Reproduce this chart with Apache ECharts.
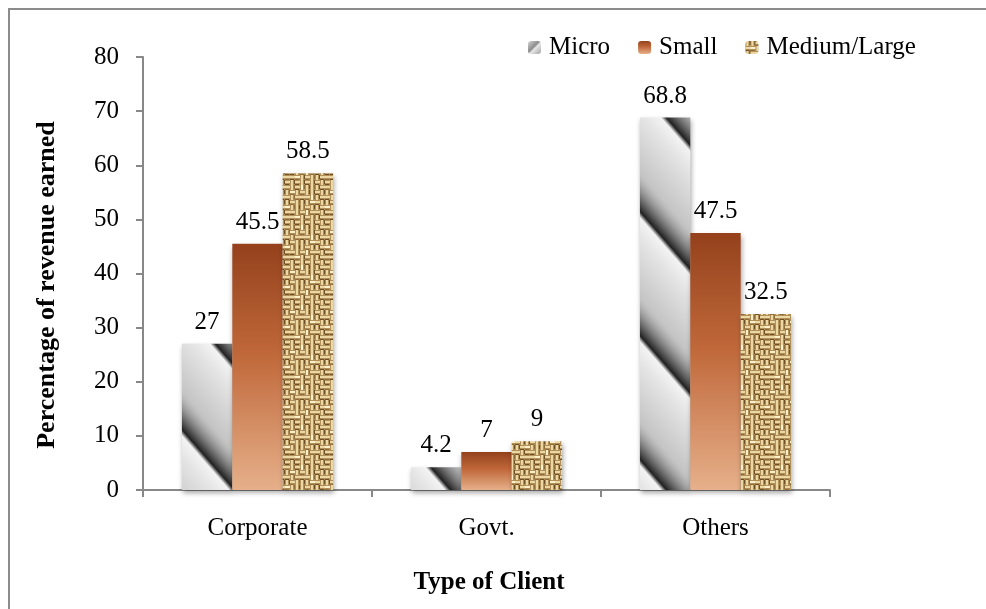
<!DOCTYPE html>
<html><head><meta charset="utf-8">
<script src="https://cdn.jsdelivr.net/npm/echarts@6/dist/echarts.min.js"></script>
<style>html,body{margin:0;padding:0;background:#fff}#c{width:986px;height:609px}</style>
</head><body><div id="c"></div>
<script>
const categories = ['Corporate', 'Govt.', 'Others'];
const seriesNames = ['Micro', 'Small', 'Medium/Large'];
const micro = [27, 4.2, 68.8];
const small = [45.5, 7, 47.5];
const mediumLarge = [58.5, 9, 32.5];
const yMin = 0, yMax = 80, yInterval = 10;

const FONT = '"Liberation Serif", "Times New Roman", serif';

function microTexture() {
  const W = 108, H = 124;
  const c = document.createElement('canvas'); c.width = W; c.height = H;
  const ctx = c.getContext('2d');
  const img = ctx.createImageData(W, H);
  for (let y = 0; y < H; y++) for (let x = 0; x < W; x++) {
    let v = ((y - x * H / W) % H + H) % H / H;
    let g;
    if (v < 0.45) g = 228 - 30 * (v / 0.45);
    else if (v < 0.78) { const t = (v - 0.45) / 0.33; g = 198 - 165 * Math.pow(t, 1.6); }
    else if (v < 0.83) g = 33 + (v - 0.78) / 0.05 * 210;
    else g = 243 - (v - 0.83) / 0.17 * 15;
    const i = (y * W + x) * 4;
    img.data[i] = g; img.data[i + 1] = g; img.data[i + 2] = g; img.data[i + 3] = 255;
  }
  ctx.putImageData(img, 0, 0);
  return c;
}

function burlapTexture() {
  const S = 5, N = 8, W = S * N, H = S * N;
  const c = document.createElement('canvas'); c.width = W; c.height = H;
  const ctx = c.getContext('2d');
  ctx.fillStyle = '#b08f58'; ctx.fillRect(0, 0, W, H);
  for (let cy = 0; cy < N; cy++) for (let cx = 0; cx < N; cx++) {
    const h = (cx * 37 + cy * 91 + cx * cy * 17) % 7;
    const x = cx * S, y = cy * S;
    const horiz = ((cx + cy) % 2 === 0) !== (h < 2);
    ctx.fillStyle = h === 5 ? '#fbf0cc' : '#ecd8a4';
    if (horiz) ctx.fillRect(x, y + 1, S, 2); else ctx.fillRect(x + 1, y, 2, S);
    ctx.fillStyle = h < 3 ? '#6f5026' : '#8e6d3b';
    if (horiz) ctx.fillRect(x, y + 4, S - 1, 1); else ctx.fillRect(x + 4, y, 1, S - 1);
  }
  return c;
}

const microFill = { image: microTexture(), repeat: 'repeat' };
const microIcon = {
  type: 'linear', x: 0, y: 0, x2: 1, y2: 1,
  colorStops: [
    { offset: 0, color: '#d8d8d8' },
    { offset: 0.45, color: '#8a8a8a' },
    { offset: 0.55, color: '#e8e8e8' },
    { offset: 1, color: '#a0a0a0' }
  ]
};
const smallFill = {
  type: 'linear', x: 0, y: 0, x2: 0, y2: 1,
  colorStops: [
    { offset: 0, color: '#94411c' },
    { offset: 0.45, color: '#c0683a' },
    { offset: 1, color: '#e6b08a' }
  ]
};
const medFill = { image: burlapTexture(), repeat: 'repeat' };

const labelStyle = { show: true, position: 'top', distance: 9, color: '#000', fontFamily: FONT, fontSize: 25 };
const shadow = { shadowBlur: 5, shadowColor: 'rgba(0,0,0,0.35)', shadowOffsetX: 1, shadowOffsetY: 3 };

const chart = echarts.init(document.getElementById('c'), null, { renderer: 'canvas' });
chart.setOption({
  animation: false,
  backgroundColor: '#fff',
  grid: { left: 143, right: 156, top: 57, bottom: 119 },
  legend: {
    data: [
      { name: seriesNames[0], itemStyle: { color: microIcon, shadowBlur: 0, shadowOffsetX: 0, shadowOffsetY: 0 } },
      { name: seriesNames[1], itemStyle: { shadowBlur: 0, shadowOffsetX: 0, shadowOffsetY: 0 } },
      { name: seriesNames[2], itemStyle: { shadowBlur: 0, shadowOffsetX: 0, shadowOffsetY: 0 } }
    ],
    left: 523, top: 30, itemWidth: 13, itemHeight: 13, itemGap: 28,
    textStyle: { fontFamily: FONT, fontSize: 25, color: '#000', padding: [0, 0, 0, 3] }
  },
  xAxis: {
    type: 'category', data: categories,
    axisLine: { lineStyle: { color: '#888', width: 2 } },
    axisTick: { show: true, length: 7, lineStyle: { color: '#888', width: 2 } },
    axisLabel: { fontFamily: FONT, fontSize: 25, color: '#000', margin: 26 }
  },
  yAxis: {
    type: 'value', min: yMin, max: yMax, interval: yInterval,
    splitLine: { show: false },
    axisLine: { show: true, lineStyle: { color: '#888', width: 2 } },
    axisTick: { show: true, length: 7, lineStyle: { color: '#888', width: 2 } },
    axisLabel: { fontFamily: FONT, fontSize: 25, color: '#000', margin: 24 }
  },
  series: [
    { name: seriesNames[0], type: 'bar', data: micro, barWidth: '22%', barGap: '0%',
      itemStyle: Object.assign({ color: microFill }, shadow), label: labelStyle },
    { name: seriesNames[1], type: 'bar', data: small, barWidth: '22%', barGap: '0%',
      itemStyle: Object.assign({ color: smallFill }, shadow), label: labelStyle },
    { name: seriesNames[2], type: 'bar', data: mediumLarge, barWidth: '22%', barGap: '0%',
      itemStyle: Object.assign({ color: medFill }, shadow), label: labelStyle }
  ],
  graphic: [
    { type: 'rect', shape: { x: 9, y: 9, width: 1000, height: 1000 }, silent: true, z: -1,
      style: { fill: 'none', stroke: '#8c8c8c', lineWidth: 2 } },
    { type: 'text', x: 489, y: 583, silent: true,
      style: { text: 'Type of Client', fontFamily: FONT, fontSize: 25, fontWeight: 'bold', fill: '#000', align: 'center', verticalAlign: 'middle' } },
    { type: 'text', x: 47, y: 285, rotation: Math.PI / 2, silent: true,
      style: { text: 'Percentage of revenue earned', fontFamily: FONT, fontSize: 26, fontWeight: 'bold', fill: '#000', align: 'center', verticalAlign: 'middle' } }
  ]
});
</script>
</body></html>
